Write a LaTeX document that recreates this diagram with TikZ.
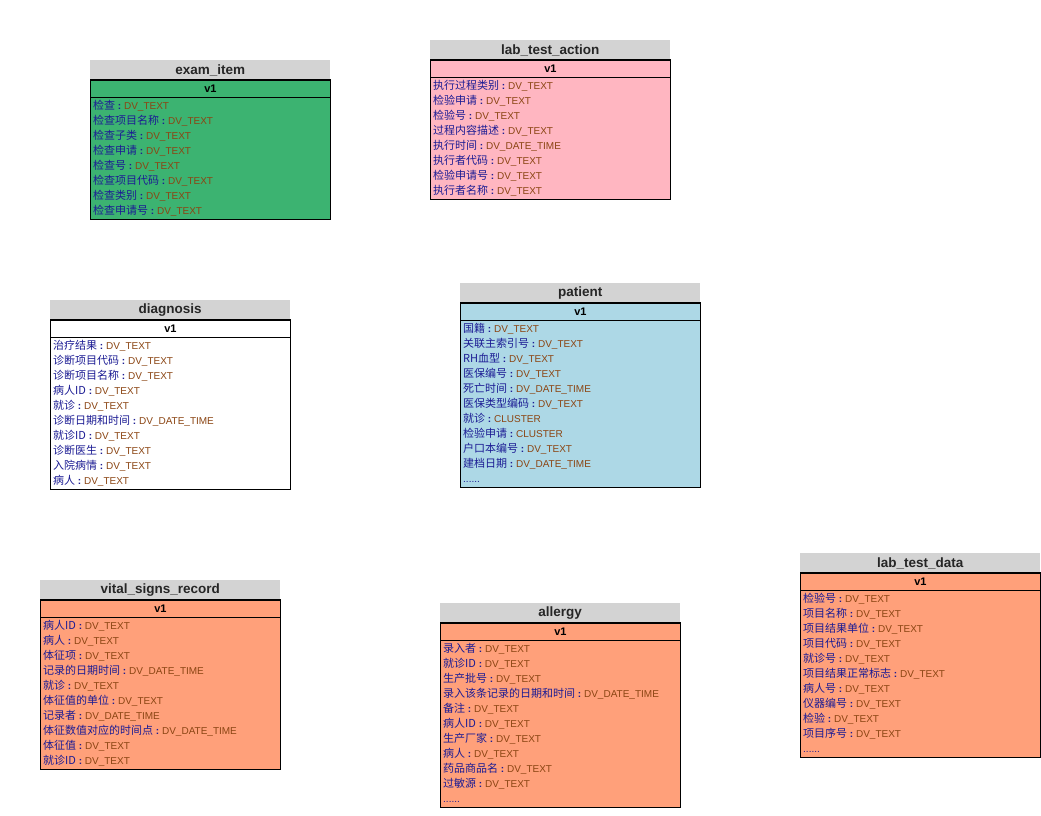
\documentclass[tikz,border=0pt]{standalone}
\usepackage{fontspec}
\setmainfont{Liberation Sans}
\newfontfamily\cjk{Noto Sans CJK SC}[Scale=1.1]
\definecolor{titlegray}{HTML}{D3D3D3}
\definecolor{examgreen}{HTML}{3CB371}
\definecolor{actionpink}{HTML}{FFB6C1}
\definecolor{patientblue}{HTML}{ADD8E6}
\definecolor{salmonfill}{HTML}{FFA07A}
\definecolor{fieldblue}{HTML}{1C1C94}
\definecolor{typebrown}{HTML}{8B4513}
\tikzset{
  titlebox/.style={rectangle, fill=titlegray, minimum width=240pt, minimum height=20pt, inner sep=0pt, font=\fontsize{13.5}{15}\selectfont\bfseries, text=black!85},
  verbox/.style={rectangle, draw=black, line width=0.8pt, minimum width=240pt, minimum height=17pt, inner sep=0pt, font=\fontsize{11}{12}\selectfont\bfseries},
  bodybox/.style={rectangle, draw=black, line width=0.8pt, minimum width=240pt, inner sep=0pt},
  fieldtext/.style={inner sep=0pt, font=\fontsize{10}{12}\selectfont},
  thickrule/.style={line width=1.8pt}
}
\newcount\rowi
\newcommand\ertable[6]{%
  \node[titlebox, anchor=north west] (#1-title) at (#3,#4) {#2};
  \node[verbox, fill=#5, anchor=north west] (#1-ver) at (#3,#4+20) {v1};
  \draw[thickrule] (#1-ver.north west) -- (#1-ver.north east);
  \draw[thickrule] (#1-ver.south west) -- (#1-ver.south east);
  \node[bodybox, fill=#5, minimum height={15*#6+1.5}, anchor=north west] (#1-body) at (#3,#4+37) {};
  \gdef\curid{#1}\gdef\curx{#3}\gdef\cury{#4+37}\global\rowi=0\relax
}
\newcommand\fld[2]{%
  \global\advance\rowi by 1\relax
  \node[fieldtext, anchor=base west] (\curid-r\the\rowi) at (\curx+3, \cury+15*\the\rowi-3)
    {\textcolor{fieldblue}{\cjk #1}\textcolor{fieldblue}{\ \textbf{:}\ }\textcolor{typebrown}{#2}};
}
\newcommand\moreRow{%
  \global\advance\rowi by 1\relax
  \node[fieldtext, anchor=base west, text=fieldblue] (\curid-r\the\rowi) at (\curx+3, \cury+15*\the\rowi-3) {......};
}
\begin{document}
\begin{tikzpicture}[x=1pt,y=-1pt]
\useasboundingbox[fill=white] (0,0) rectangle (1041,816);

% exam_item
\ertable{examitem}{exam\_item}{90}{60}{examgreen}{8}
\fld{检查}{DV\_TEXT}
\fld{检查项目名称}{DV\_TEXT}
\fld{检查子类}{DV\_TEXT}
\fld{检查申请}{DV\_TEXT}
\fld{检查号}{DV\_TEXT}
\fld{检查项目代码}{DV\_TEXT}
\fld{检查类别}{DV\_TEXT}
\fld{检查申请号}{DV\_TEXT}

% lab_test_action
\ertable{labaction}{lab\_test\_action}{430}{40}{actionpink}{8}
\fld{执行过程类别}{DV\_TEXT}
\fld{检验申请}{DV\_TEXT}
\fld{检验号}{DV\_TEXT}
\fld{过程内容描述}{DV\_TEXT}
\fld{执行时间}{DV\_DATE\_TIME}
\fld{执行者代码}{DV\_TEXT}
\fld{检验申请号}{DV\_TEXT}
\fld{执行者名称}{DV\_TEXT}

% diagnosis
\ertable{diagnosis}{diagnosis}{50}{300}{white}{10}
\fld{治疗结果}{DV\_TEXT}
\fld{诊断项目代码}{DV\_TEXT}
\fld{诊断项目名称}{DV\_TEXT}
\fld{病人ID}{DV\_TEXT}
\fld{就诊}{DV\_TEXT}
\fld{诊断日期和时间}{DV\_DATE\_TIME}
\fld{就诊ID}{DV\_TEXT}
\fld{诊断医生}{DV\_TEXT}
\fld{入院病情}{DV\_TEXT}
\fld{病人}{DV\_TEXT}

% patient
\ertable{patient}{patient}{460}{283}{patientblue}{11}
\fld{国籍}{DV\_TEXT}
\fld{关联主索引号}{DV\_TEXT}
\fld{RH血型}{DV\_TEXT}
\fld{医保编号}{DV\_TEXT}
\fld{死亡时间}{DV\_DATE\_TIME}
\fld{医保类型编码}{DV\_TEXT}
\fld{就诊}{CLUSTER}
\fld{检验申请}{CLUSTER}
\fld{户口本编号}{DV\_TEXT}
\fld{建档日期}{DV\_DATE\_TIME}
\moreRow

% vital_signs_record
\ertable{vitals}{vital\_signs\_record}{40}{580}{salmonfill}{10}
\fld{病人ID}{DV\_TEXT}
\fld{病人}{DV\_TEXT}
\fld{体征项}{DV\_TEXT}
\fld{记录的日期时间}{DV\_DATE\_TIME}
\fld{就诊}{DV\_TEXT}
\fld{体征值的单位}{DV\_TEXT}
\fld{记录者}{DV\_DATE\_TIME}
\fld{体征数值对应的时间点}{DV\_DATE\_TIME}
\fld{体征值}{DV\_TEXT}
\fld{就诊ID}{DV\_TEXT}

% allergy
\ertable{allergy}{allergy}{440}{603}{salmonfill}{11}
\fld{录入者}{DV\_TEXT}
\fld{就诊ID}{DV\_TEXT}
\fld{生产批号}{DV\_TEXT}
\fld{录入该条记录的日期和时间}{DV\_DATE\_TIME}
\fld{备注}{DV\_TEXT}
\fld{病人ID}{DV\_TEXT}
\fld{生产厂家}{DV\_TEXT}
\fld{病人}{DV\_TEXT}
\fld{药品商品名}{DV\_TEXT}
\fld{过敏源}{DV\_TEXT}
\moreRow

% lab_test_data
\ertable{labdata}{lab\_test\_data}{800}{553}{salmonfill}{11}
\fld{检验号}{DV\_TEXT}
\fld{项目名称}{DV\_TEXT}
\fld{项目结果单位}{DV\_TEXT}
\fld{项目代码}{DV\_TEXT}
\fld{就诊号}{DV\_TEXT}
\fld{项目结果正常标志}{DV\_TEXT}
\fld{病人号}{DV\_TEXT}
\fld{仪器编号}{DV\_TEXT}
\fld{检验}{DV\_TEXT}
\fld{项目序号}{DV\_TEXT}
\moreRow
\end{tikzpicture}
\end{document}
